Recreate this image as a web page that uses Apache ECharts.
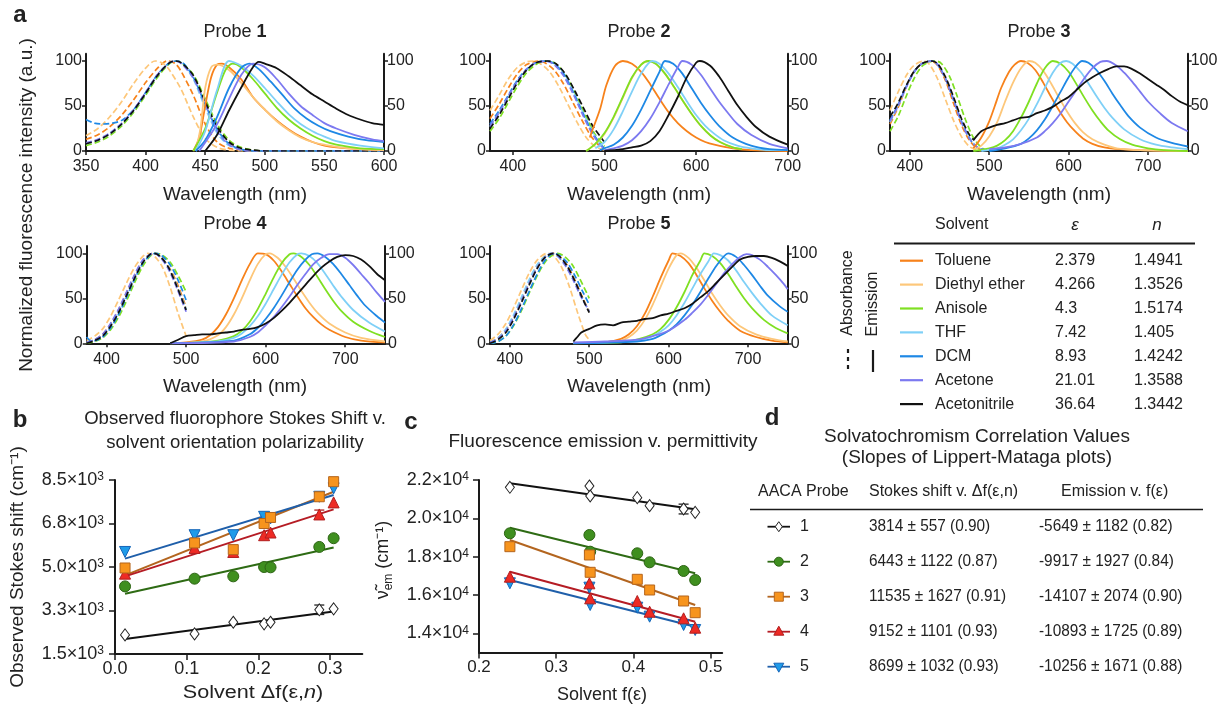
<!DOCTYPE html>
<html><head><meta charset="utf-8">
<script src="https://cdn.jsdelivr.net/npm/echarts@6/dist/echarts.min.js"></script>
<style>html,body{margin:0;padding:0;background:#fff}#c{width:1223px;height:706px}</style>
</head><body><div id="c"></div>
<script>
// ================= DATA =================
const solvents = ['Toluene','Diethyl ether','Anisole','THF','DCM','Acetone','Acetonitrile'];
const solventEps = ['2.379','4.266','4.3','7.42','8.93','21.01','36.64'];
const solventN = ['1.4941','1.3526','1.5174','1.405','1.4242','1.3588','1.3442'];
const probeLabels = ['1','2','3','4','5'];
const wlTicksProbe1 = [350,400,450,500,550,600];
const wlTicks = [400,500,600,700];
const intensityTicks = [0,50,100];

// Spectra: [wavelength nm, normalized intensity]; order: Toluene, Ether, Anisole, THF, DCM, Acetone, Acetonitrile
const probe1Abs = [
 [[350,13],[360,18],[370,27],[380,40],[390,57],[400,76],[410,92],[418,100],[425,97],[430,88],[440,62],[450,30],[460,10],[470,3],[480,1],[490,0],[600,0]],
 [[350,17],[360,25],[370,38],[380,55],[390,75],[400,92],[408,100],[415,97],[420,90],[430,68],[440,38],[450,14],[460,4],[470,1],[480,0],[600,0]],
 [[350,6],[360,10],[370,17],[380,28],[390,43],[400,62],[410,82],[420,97],[425,100],[430,98],[440,85],[450,58],[460,30],[470,12],[480,4],[490,1],[500,0],[600,0]],
 [[350,8],[360,12],[370,19],[380,30],[390,45],[400,64],[410,84],[420,98],[426,100],[432,96],[440,80],[450,48],[460,20],[470,6],[480,2],[490,0],[600,0]],
 [[350,35],[357,31],[365,30],[372,31],[380,34],[390,46],[400,65],[410,85],[420,98],[426,100],[432,97],[440,82],[450,52],[460,24],[470,8],[480,2],[490,0],[600,0]],
 [[350,9],[360,13],[370,20],[380,31],[390,46],[400,65],[410,85],[420,98],[425,100],[430,97],[440,81],[450,52],[460,22],[470,7],[480,1],[490,0],[600,0]],
 [[350,8],[360,12],[370,19],[380,30],[390,45],[400,64],[410,84],[420,98],[425,100],[430,98],[440,84],[450,55],[460,27],[470,10],[480,3],[490,1],[500,0],[600,0]]
];
const probe1Em = [
 [[440,0],[445,15],[450,50],[455,82],[460,96],[464,97],[470,93],[480,80],[490,60],[500,46],[510,34],[520,24],[530,16],[540,10],[550,6],[560,4],[580,2],[600,1]],
 [[442,0],[446,25],[450,70],[455,93],[460,96],[470,90],[480,76],[490,60],[500,46],[510,33],[520,23],[530,15],[540,10],[550,7],[570,3],[600,1]],
 [[440,0],[450,25],[460,65],[467,90],[473,97],[480,93],[490,80],[500,64],[510,48],[520,35],[530,25],[540,17],[550,11],[560,7],[580,3],[600,2]],
 [[442,0],[450,22],[460,68],[470,100],[480,95],[490,84],[500,70],[510,55],[520,41],[530,30],[540,22],[550,16],[560,11],[580,6],[600,3]],
 [[442,0],[450,12],[460,38],[470,70],[480,92],[487,97],[495,91],[505,77],[515,62],[525,47],[535,36],[545,28],[555,22],[570,16],[585,12],[600,10]],
 [[445,0],[460,30],[470,58],[480,84],[490,97],[500,93],[510,80],[520,64],[530,50],[540,40],[550,31],[560,25],[575,18],[590,13],[600,11]],
 [[450,0],[460,18],[470,45],[480,70],[490,93],[495,99],[500,97],[510,92],[520,83],[530,73],[540,63],[550,55],[560,47],[570,40],[580,35],[590,31],[600,29]]
];
const probe2Abs = [
 [[375,36],[385,52],[395,70],[405,86],[415,96],[428,100],[435,98],[445,90],[455,75],[465,55],[475,35],[485,17],[495,5],[500,2]],
 [[375,45],[385,62],[395,80],[405,93],[415,99],[422,100],[430,97],[440,88],[450,72],[460,52],[470,32],[480,15],[490,5],[500,1]],
 [[375,22],[385,36],[395,54],[405,72],[415,87],[425,96],[435,100],[440,100],[450,94],[460,80],[470,60],[480,38],[490,18],[500,5]],
 [[375,27],[385,42],[395,60],[405,77],[415,90],[425,98],[437,100],[445,97],[455,87],[465,68],[475,46],[485,25],[495,8],[500,3]],
 [[375,30],[385,45],[395,62],[405,79],[415,91],[425,98],[437,100],[445,97],[455,86],[465,67],[475,45],[485,24],[495,8],[500,3]],
 [[375,28],[385,43],[395,61],[405,78],[415,91],[425,98],[436,100],[445,96],[455,84],[465,65],[475,43],[485,22],[495,7],[500,2]],
 [[375,25],[385,40],[395,58],[405,76],[415,90],[425,98],[438,100],[447,97],[457,86],[467,68],[477,48],[487,28],[497,14],[500,10]]
];
const probe2Em = [
 [[484,15],[486,21],[495,46],[502,73],[511,94],[520,100],[530,97],[540,88],[550,74],[560,58],[570,43],[580,31],[590,22],[600,15],[610,10],[620,7],[640,3],[660,1],[700,0]],
 [[480,0],[490,8],[500,19],[510,37],[520,59],[530,81],[540,96],[548,100],[556,97],[566,86],[576,71],[586,55],[596,40],[606,27],[616,17],[626,10],[640,4],[650,2]],
 [[480,0],[490,8],[500,20],[510,38],[520,60],[530,82],[540,96],[548,100],[556,97],[566,86],[576,71],[586,55],[596,40],[606,27],[616,17],[626,10],[640,4],[650,2]],
 [[490,3],[500,10],[510,24],[520,44],[530,66],[540,86],[552,100],[560,97],[570,86],[580,71],[590,55],[600,40],[610,28],[620,19],[630,12],[645,6],[660,3],[680,1],[700,1]],
 [[495,1],[500,3],[510,7],[520,15],[530,28],[540,46],[550,67],[560,88],[566,100],[575,97],[585,86],[595,70],[605,54],[615,40],[625,28],[640,15],[660,6],[680,2],[700,1]],
 [[500,1],[510,3],[520,6],[530,12],[540,22],[550,36],[560,54],[570,74],[580,93],[585,100],[595,96],[605,85],[615,70],[625,55],[635,42],[645,30],[660,18],[680,8],[700,3]],
 [[500,0],[510,1],[520,2],[530,4],[540,6],[550,11],[560,22],[570,40],[580,60],[590,82],[600,98],[604,100],[615,95],[625,83],[635,67],[645,51],[655,38],[665,27],[680,16],[700,7]]
];
const probe3Abs = [
 [[375,30],[385,48],[395,70],[405,88],[415,97],[427,100],[435,95],[445,78],[455,53],[465,29],[475,12],[485,3],[495,1]],
 [[375,45],[385,65],[395,83],[405,95],[418,100],[425,96],[435,80],[445,57],[455,34],[465,16],[475,5],[485,1],[490,0]],
 [[375,22],[385,38],[395,60],[405,80],[415,94],[425,99],[433,100],[440,97],[450,83],[460,60],[470,35],[480,15],[490,4],[497,1]],
 [[375,32],[385,50],[395,70],[405,87],[415,97],[428,100],[435,96],[445,81],[455,58],[465,33],[475,15],[485,4],[495,1]],
 [[375,34],[385,51],[395,71],[405,88],[415,97],[428,100],[435,96],[445,80],[455,57],[465,33],[475,14],[485,4],[495,1]],
 [[375,33],[385,50],[395,70],[405,87],[415,97],[428,100],[435,96],[445,80],[455,57],[465,32],[475,14],[485,4],[495,1]],
 [[375,38],[385,53],[395,72],[405,88],[415,97],[428,100],[435,97],[445,82],[455,60],[465,36],[475,18],[481,12]]
];
const probe3Em = [
 [[480,3],[490,15],[500,33],[507,50],[515,70],[525,88],[532,96],[540,100],[548,98],[558,90],[568,76],[578,60],[588,45],[598,32],[608,22],[618,14],[630,8],[645,4],[665,2],[690,1],[750,0]],
 [[480,1],[490,6],[500,16],[510,32],[520,55],[530,76],[540,92],[550,100],[558,98],[568,89],[578,75],[588,59],[598,44],[608,31],[618,21],[630,13],[645,7],[660,3],[690,1],[750,0]],
 [[480,0],[500,3],[510,6],[520,12],[530,22],[540,37],[550,55],[560,75],[570,92],[580,100],[590,97],[600,88],[610,74],[620,59],[630,45],[640,33],[650,23],[665,13],[680,7],[700,3],[720,1],[750,0]],
 [[490,0],[510,3],[520,7],[530,13],[540,23],[550,36],[560,52],[570,70],[580,87],[590,98],[597,100],[605,97],[615,88],[625,75],[635,61],[645,48],[655,37],[670,24],[690,13],[710,7],[730,4],[750,2]],
 [[500,0],[520,3],[540,8],[550,14],[560,23],[570,35],[580,50],[590,66],[600,82],[610,95],[617,100],[625,98],[635,90],[645,78],[655,64],[665,51],[675,39],[690,26],[710,15],[730,9],[750,5]],
 [[500,2],[520,4],[540,8],[560,15],[570,22],[580,31],[590,42],[600,55],[610,68],[620,81],[630,92],[640,99],[648,100],[660,95],[670,87],[680,77],[690,66],[700,55],[715,42],[730,31],[750,22]],
 [[480,12],[490,22],[500,26],[510,29],[520,31],[530,34],[540,37],[550,38],[560,42],[570,45],[580,49],[590,55],[600,60],[610,68],[620,76],[630,82],[640,87],[650,91],[660,94],[670,94],[680,91],[690,86],[700,80],[710,74],[720,68],[730,61],[740,55],[750,51]]
];
const probe4Abs = [
 [[375,1],[385,4],[395,10],[405,21],[415,37],[425,56],[435,75],[445,91],[455,99],[460,100],[468,96],[478,85],[488,68],[500,40]],
 [[375,3],[385,8],[395,16],[405,30],[415,48],[425,67],[435,84],[445,96],[452,100],[460,97],[470,85],[480,62],[490,33],[500,8]],
 [[375,0],[385,2],[395,6],[405,15],[415,29],[425,47],[435,67],[445,85],[455,97],[462,100],[470,98],[480,90],[490,75],[500,57]],
 [[375,1],[385,4],[395,9],[405,20],[415,35],[425,54],[435,73],[445,90],[455,99],[460,100],[468,96],[478,84],[488,65],[500,38]],
 [[375,7],[380,3],[385,3],[395,7],[405,17],[415,32],[425,51],[435,71],[445,88],[455,98],[462,100],[470,97],[480,87],[490,70],[500,48]],
 [[375,1],[385,4],[395,10],[405,22],[415,38],[425,57],[435,76],[445,92],[455,99],[460,100],[468,95],[478,82],[488,62],[500,35]],
 [[375,0],[385,3],[395,8],[405,19],[415,34],[425,53],[435,72],[445,89],[455,99],[460,100],[468,96],[478,84],[488,64],[500,37]]
];
const probe4Em = [
 [[480,0],[500,1],[520,4],[530,9],[540,18],[550,32],[560,50],[570,70],[580,88],[590,100],[600,99],[610,92],[620,80],[630,66],[640,52],[650,39],[660,29],[670,21],[680,15],[700,7],[720,3],[750,1]],
 [[480,0],[520,2],[540,9],[550,18],[560,32],[570,50],[580,70],[590,88],[600,99],[605,100],[615,95],[625,85],[635,72],[645,58],[655,45],[665,34],[680,22],[700,12],[720,6],[750,2]],
 [[480,0],[520,1],[540,3],[560,8],[570,14],[580,24],[590,38],[600,55],[610,73],[620,89],[630,99],[635,100],[645,96],[655,87],[665,74],[675,60],[685,47],[695,36],[710,24],[730,14],[750,7]],
 [[480,0],[540,2],[560,6],[570,11],[580,19],[590,30],[600,44],[610,60],[620,76],[630,90],[640,99],[645,100],[655,97],[665,89],[675,77],[685,64],[695,52],[710,37],[730,23],[750,13]],
 [[480,0],[560,3],[580,10],[590,17],[600,27],[610,39],[620,53],[630,68],[640,82],[650,93],[658,99],[665,100],[675,96],[685,88],[695,77],[705,65],[715,53],[725,42],[740,30],[750,23]],
 [[480,0],[560,2],[580,7],[590,12],[600,20],[610,29],[620,40],[630,52],[640,65],[650,77],[660,88],[670,95],[680,99],[690,99],[700,95],[710,87],[720,77],[730,67],[740,56],[750,46]],
 [[480,0],[490,4],[500,8],[510,9],[520,10],[530,10],[540,11],[550,12],[560,13],[570,15],[580,16],[590,18],[600,22],[610,28],[620,36],[630,45],[640,55],[650,65],[660,75],[670,84],[680,91],[690,96],[700,98],[710,97],[720,93],[730,86],[740,77],[750,70]]
];
const probe5Abs = [
 [[375,1],[385,6],[395,15],[405,30],[415,50],[425,70],[435,87],[445,97],[455,100],[462,97],[472,87],[482,70],[492,50],[500,35]],
 [[375,3],[385,10],[395,22],[405,40],[415,60],[425,79],[435,93],[447,100],[455,97],[465,85],[475,63],[485,35],[495,10],[500,4]],
 [[375,0],[385,2],[395,8],[405,20],[415,37],[425,57],[435,76],[445,91],[455,99],[460,100],[468,97],[478,88],[488,72],[500,50]],
 [[375,1],[385,6],[395,16],[405,32],[415,52],[425,72],[435,88],[445,97],[452,100],[460,97],[470,87],[480,71],[490,52],[500,35]],
 [[375,0],[385,2],[395,8],[405,21],[415,39],[425,59],[435,78],[445,93],[455,100],[462,98],[472,90],[482,75],[492,57],[500,43]],
 [[375,1],[385,5],[395,14],[405,29],[415,48],[425,68],[435,85],[445,96],[453,100],[460,97],[470,86],[480,70],[490,51],[500,36]],
 [[375,0],[385,4],[395,12],[405,27],[415,46],[425,66],[435,84],[445,96],[455,100],[462,97],[472,86],[482,69],[492,49],[500,34]]
];
const probe5Em = [
 [[480,0],[520,1],[540,5],[550,10],[560,19],[570,33],[580,52],[590,73],[600,92],[605,100],[615,97],[625,89],[635,76],[645,61],[655,47],[665,35],[675,25],[690,14],[710,7],[730,3],[750,1]],
 [[480,0],[520,1],[540,3],[550,7],[560,14],[570,26],[580,43],[590,63],[600,83],[610,98],[615,100],[625,95],[635,84],[645,70],[655,55],[665,42],[675,31],[690,19],[710,10],[730,5],[750,2]],
 [[480,0],[540,1],[560,4],[580,10],[590,16],[600,26],[610,40],[620,57],[630,76],[640,92],[645,100],[655,97],[665,89],[675,77],[685,63],[695,50],[705,39],[720,26],[735,17],[750,11]],
 [[480,0],[560,3],[580,8],[590,13],[600,20],[610,31],[620,45],[630,61],[640,77],[650,91],[657,100],[665,98],[675,92],[685,81],[695,68],[705,56],[715,45],[730,31],[750,20]],
 [[480,0],[560,2],[580,5],[590,9],[600,14],[610,21],[620,31],[630,43],[640,57],[650,72],[660,86],[670,97],[675,100],[685,96],[695,87],[705,76],[715,64],[725,53],[740,41],[750,35]],
 [[480,1],[520,2],[560,4],[580,8],[600,14],[620,26],[630,34],[640,43],[650,54],[660,66],[670,78],[680,88],[690,96],[698,99],[705,98],[715,93],[725,85],[735,76],[745,66],[750,60]],
 [[480,2],[485,7],[490,12],[500,16],[510,20],[520,21],[530,20],[540,23],[550,24],[560,25],[570,27],[580,28],[590,31],[600,33],[610,36],[620,39],[630,44],[640,51],[650,58],[660,67],[670,76],[680,85],[690,93],[700,96],[710,97],[720,97],[730,95],[740,91],[750,86]]
];

// Panel b: Stokes shift (cm-1) vs solvent delta f(eps,n)
const bDeltaF = [0.014, 0.111, 0.165, 0.208, 0.217, 0.285, 0.305];
const bProbe1 = [2269, 2309, 2778, 2713, 2778, 3278, 3318];
const bProbe2 = [4220, 4530, 4624, 5000, 4987, 5807, 6158];
const bProbe3 = [4960, 5968, 5700, 6750, 6993, 7826, 8433];
const bProbe4 = [4732, 5767, 5605, 6279, 6387, 7114, 7599];
const bProbe5 = [5605, 6279, 6279, 7019, 6953, 7826, 8164];
const bFitX = [0.014, 0.305];
const bFits = [[2108, 3210], [3925, 5782], [4664, 8029], [4624, 7317], [5338, 7894]];
const bErrorBars = [[0.285, 3090, 3470, 0], [0.285, 6940, 7290, 3]];
const bYTicks = [1500, 3250, 5000, 6750, 8500];
const bXTicks = [0, 0.1, 0.2, 0.3];

// Panel c: emission wavenumber (cm-1) vs solvent f(eps)
const cFEps = [0.240, 0.343, 0.344, 0.405, 0.421, 0.465, 0.480];
const cProbe1 = [21619, 21687, 21165, 21078, 20660, 20487, 20313];
const cProbe2 = [19219, 19130, 18260, 18176, 17706, 17253, 16783];
const cProbe3 = [18521, 18087, 17184, 16819, 16261, 15687, 15077];
const cProbe4 = [16957, 16609, 15826, 15687, 15129, 14783, 14296];
const cProbe5 = [16609, 16383, 15479, 15338, 14869, 14435, 14174];
const cFitX = [0.24, 0.48];
const cFits = [[21826, 20470], [19512, 17133], [18870, 15479], [17217, 14609], [16783, 14348]];
const cErrorBars = [[0.465, 20230, 20740, 0]];
const cYTicks = [14000, 16000, 18000, 20000, 22000];
const cXTicks = [0.2, 0.3, 0.4, 0.5];

// Panel d table
const stokesSlopes = ['3814 ± 557 (0.90)', '6443 ± 1122 (0.87)', '11535 ± 1627 (0.91)', '9152 ± 1101 (0.93)', '8699 ± 1032 (0.93)'];
const emissionSlopes = ['-5649 ± 1182 (0.82)', '-9917 ± 1927 (0.84)', '-14107 ± 2074 (0.90)', '-10893 ± 1725 (0.89)', '-10256 ± 1671 (0.88)'];

// ================= STYLE / LAYOUT =================
const FONT = '"Liberation Sans", Arial, Helvetica, sans-serif';
const AX = '#1a1a1a';
const TXT = '#222';
const solventColors = ['#F7821B', '#FDC77A', '#7FE022', '#7FD0F7', '#1E88E5', '#7C79F0', '#111111'];
const probeFill = ['#ffffff', '#3f8f1f', '#F7941D', '#EE2A24', '#1E9BE9'];
const probeEdge = ['#222222', '#2d6414', '#b5651d', '#b01f1f', '#1565b8'];
const probeLine = ['#111111', '#2e6b14', '#b3651f', '#b51c24', '#1f5faa'];
const probeSymbol = ['diamond', 'circle', 'rect', 'triangle', 'triangle'];
const probeSymRot = [0, 0, 0, 0, 180];
const probeSymSize = [[9, 12], 11, 10, 11, 11];

const spectraAbs = [probe1Abs, probe2Abs, probe3Abs, probe4Abs, probe5Abs];
const spectraEm = [probe1Em, probe2Em, probe3Em, probe4Em, probe5Em];
const spectraRange = [[350, 600], [375, 700], [375, 750], [375, 750], [375, 750]];
const spectraXTicks = [wlTicksProbe1, wlTicks, wlTicks, wlTicks, wlTicks];
const specGrids = [
  {left: 86, top: 53.8, width: 298, height: 97.2},
  {left: 490, top: 53.8, width: 297.7, height: 97.2},
  {left: 890, top: 53.8, width: 297.7, height: 97.2},
  {left: 86.7, top: 246.1, width: 298.3, height: 97.2},
  {left: 490, top: 246.1, width: 297.7, height: 97.2}
];
const gridB = {left: 115, top: 480, width: 247.3, height: 174};
const gridC = {left: 479, top: 480, width: 243.2, height: 172.5};

function axisBase(fontSize, margin, ticks, tickLen, fmt) {
  return {
    axisLine: {show: true, onZero: false, lineStyle: {color: AX, width: 2}},
    axisTick: {show: true, inside: false, length: tickLen, customValues: ticks, lineStyle: {color: AX, width: 1.5}},
    axisLabel: {show: true, customValues: ticks, fontSize: fontSize, color: TXT, fontFamily: FONT, margin: margin, formatter: fmt},
    splitLine: {show: false}
  };
}

const grids = [], xAxes = [], yAxes = [], series = [];
for (let p = 0; p < 5; p++) {
  grids.push(Object.assign({containLabel: false}, specGrids[p]));
  xAxes.push(Object.assign({type: 'value', gridIndex: p, min: spectraRange[p][0], max: spectraRange[p][1]},
    axisBase(16, 8, spectraXTicks[p], 4, v => String(v))));
  yAxes.push(Object.assign({type: 'value', gridIndex: p, min: 0, max: 108, position: 'left'},
    axisBase(16, 4, intensityTicks, 4, v => String(v))));
  yAxes.push(Object.assign({type: 'value', gridIndex: p, min: 0, max: 108, position: 'right'},
    axisBase(16, 3, intensityTicks, 4, v => String(v))));
  for (let s = 0; s < 7; s++) {
    series.push({type: 'line', xAxisIndex: p, yAxisIndex: 2 * p, data: spectraAbs[p][s], symbol: 'none', smooth: 0.3,
      silent: true, z: 2, lineStyle: {color: solventColors[s], width: 1.7, type: [6, 3]}});
  }
  for (let s = 0; s < 7; s++) {
    series.push({type: 'line', xAxisIndex: p, yAxisIndex: 2 * p, data: spectraEm[p][s], symbol: 'none', smooth: 0.3,
      silent: true, z: 3, lineStyle: {color: solventColors[s], width: 1.8}});
  }
}
// Panel b grid (index 5)
grids.push(Object.assign({}, gridB));
xAxes.push(Object.assign({type: 'value', gridIndex: 5, min: 0, max: 0.345}, axisBase(18, 6, bXTicks, 6, v => v.toFixed(1))));
const sciRich = {m: {fontSize: 18, fontFamily: FONT, color: TXT}, s: {fontSize: 12, fontFamily: FONT, color: TXT, verticalAlign: 'top', padding: [0, 0, 6, 0]}};
const yb = Object.assign({type: 'value', gridIndex: 5, min: 1500, max: 8500, position: 'left'},
  axisBase(18, 11, bYTicks, 6, v => '{m|' + (v / 1000).toFixed(1) + '×10}{s|3}'));
yb.axisLabel.rich = sciRich;
yAxes.push(yb);
// Panel c grid (index 6)
grids.push(Object.assign({}, gridC));
xAxes.push(Object.assign({type: 'value', gridIndex: 6, min: 0.2, max: 0.515}, axisBase(17, 6, cXTicks, 6, v => v.toFixed(1))));
const yc = Object.assign({type: 'value', gridIndex: 6, min: 13000, max: 22000, position: 'left'},
  axisBase(18, 10, cYTicks, 6, v => '{m|' + (v / 10000).toFixed(1) + '×10}{s|4}'));
yc.axisLabel.rich = sciRich;
yAxes.push(yc);

const bVals = [bProbe1, bProbe2, bProbe3, bProbe4, bProbe5];
const cVals = [cProbe1, cProbe2, cProbe3, cProbe4, cProbe5];
const drawOrder = [0, 1, 4, 3, 2];
function addScatterPanel(gi, yi, xs, vals, fitX, fits, errs) {
  for (let p = 0; p < 5; p++) {
    series.push({type: 'line', xAxisIndex: gi, yAxisIndex: yi, data: fitX.map((x, i) => [x, fits[p][i]]), symbol: 'none',
      silent: true, z: 2, lineStyle: {color: probeLine[p], width: 2}});
  }
  series.push({type: 'custom', xAxisIndex: gi, yAxisIndex: yi, data: errs, z: 3, silent: true,
    renderItem: function (params, api) {
      const x = api.value(0), lo = api.value(1), hi = api.value(2), col = probeEdge[api.value(3)];
      const a = api.coord([x, lo]), b = api.coord([x, hi]);
      const w = 5;
      return {type: 'group', children: [
        {type: 'line', shape: {x1: a[0], y1: a[1], x2: b[0], y2: b[1]}, style: {stroke: col, lineWidth: 1.3}},
        {type: 'line', shape: {x1: a[0] - w, y1: a[1], x2: a[0] + w, y2: a[1]}, style: {stroke: col, lineWidth: 1.3}},
        {type: 'line', shape: {x1: b[0] - w, y1: b[1], x2: b[0] + w, y2: b[1]}, style: {stroke: col, lineWidth: 1.3}}
      ]};
    }});
  drawOrder.forEach((p, k) => {
    series.push({type: 'scatter', xAxisIndex: gi, yAxisIndex: yi, data: xs.map((x, i) => [x, vals[p][i]]),
      symbol: probeSymbol[p], symbolRotate: probeSymRot[p], symbolSize: probeSymSize[p], silent: true, z: 4 + k,
      itemStyle: {color: probeFill[p], borderColor: probeEdge[p], borderWidth: 1, opacity: 1}});
  });
}
addScatterPanel(5, 10, bDeltaF, bVals, bFitX, bFits, bErrorBars);
addScatterPanel(6, 11, cFEps, cVals, cFitX, cFits, cErrorBars);

// ================= GRAPHIC TEXT =================
const G = [];
function T(x, y, text, o) {
  o = o || {};
  const st = {text: text, x: 0, y: 0, fill: o.fill || TXT, fontSize: o.size || 16, fontFamily: FONT,
    fontWeight: o.weight || 'normal', fontStyle: o.style || 'normal', align: o.align || 'left', verticalAlign: o.va || 'middle'};
  if (o.rich) st.rich = o.rich;
  G.push({type: 'text', x: x, y: y, rotation: o.rot || 0, scaleX: o.sx || 1, z: 100, silent: true, style: st});
}
function L(x1, y1, x2, y2, col, w, dash) {
  G.push({type: 'line', z: 100, silent: true, shape: {x1: x1, y1: y1, x2: x2, y2: y2}, style: {stroke: col, lineWidth: w, lineDash: dash || null}});
}
function richStyles(size) {
  return {
    r: {fontSize: size, fontFamily: FONT, fill: TXT, color: TXT},
    b: {fontSize: size, fontFamily: FONT, fontWeight: 'bold', fill: TXT, color: TXT},
    i: {fontSize: size, fontFamily: FONT, fontStyle: 'italic', fill: TXT, color: TXT},
    sub: {fontSize: Math.round(size * 0.68), fontFamily: FONT, fill: TXT, color: TXT, verticalAlign: 'bottom', lineHeight: size + 6, padding: [8, 0, 0, 0]}
  };
}
// Panel letters
T(20, 15, 'a', {size: 24, weight: 'bold', align: 'center'});
T(20, 420, 'b', {size: 24, weight: 'bold', align: 'center'});
T(411, 422, 'c', {size: 24, weight: 'bold', align: 'center'});
T(772, 418, 'd', {size: 24, weight: 'bold', align: 'center'});
// Probe titles
const titlePos = [[235, 32], [639, 32], [1039, 32], [235, 224], [639, 224]];
titlePos.forEach((tp, p) => T(tp[0], tp[1], '{r|Probe }{b|' + probeLabels[p] + '}', {align: 'center', rich: richStyles(18)}));
// Wavelength labels
const wlPos = [[235, 195], [639, 195], [1039, 195], [235, 387], [639, 387]];
wlPos.forEach(wp => T(wp[0], wp[1], 'Wavelength (nm)', {size: 19, align: 'center'}));
T(27, 205, 'Normalized fluorescence intensity (a.u.)', {size: 19, align: 'center', rot: Math.PI / 2});

// Legend table
T(935, 225, 'Solvent', {size: 16});
T(1075, 225, 'ε', {size: 17, style: 'italic', align: 'center'});
T(1157, 225, 'n', {size: 17, style: 'italic', align: 'center'});
L(894, 243.5, 1195, 243.5, AX, 1.8);
solvents.forEach((name, s) => {
  const y = 260.7 + s * 23.9;
  L(900, y, 923, y, solventColors[s], 2.2);
  T(935, y, name, {size: 16});
  T(1055, y, solventEps[s], {size: 16});
  T(1134, y, solventN[s], {size: 16});
});
T(848, 293, 'Absorbance', {size: 16, align: 'center', rot: Math.PI / 2});
T(873, 304, 'Emission', {size: 16, align: 'center', rot: Math.PI / 2});
L(848, 349, 848, 373, AX, 2.2, [4, 4]);
L(873, 350, 873, 372, AX, 2.2);

// Panel b titles
T(235, 419, 'Observed fluorophore Stokes Shift v.', {size: 18, align: 'center', sx: 1.03});
T(235, 443, 'solvent orientation polarizability', {size: 18, align: 'center', sx: 1.03});
T(18, 567, '{r|Observed Stokes shift (cm⁻¹)}', {align: 'center', rot: Math.PI / 2, rich: richStyles(19)});
T(253, 693, '{r|Solvent Δf(ε,}{i|n}{r|)}', {align: 'center', rich: richStyles(18), sx: 1.2});
// Panel c titles
T(603, 442, 'Fluorescence emission v. permittivity', {size: 19, align: 'center'});
T(383, 560, '{r|ν̃}{sub|em}{r| (cm⁻¹)}', {align: 'center', rot: Math.PI / 2, rich: richStyles(18)});
T(602, 695, 'Solvent f(ε)', {size: 18, align: 'center'});

// Panel d
T(977, 437, 'Solvatochromism Correlation Values', {size: 19, align: 'center'});
T(977, 458, '(Slopes of Lippert-Mataga plots)', {size: 19, align: 'center'});
T(758, 492, 'AACA Probe', {size: 16});
T(869, 492, 'Stokes shift v. Δf(ε,n)', {size: 16});
T(1061, 492, 'Emission v. f(ε)', {size: 16});
L(750, 509.5, 1203, 509.5, AX, 1.6);
for (let p = 0; p < 5; p++) {
  const y = 526.7 + p * 35;
  L(767.5, y, 790, y, probeLine[p], 1.8);
  const cx = 778.8;
  if (p === 0) G.push({type: 'polygon', z: 101, shape: {points: [[cx, y - 5], [cx + 3.5, y], [cx, y + 5], [cx - 3.5, y]]}, style: {fill: '#fff', stroke: probeEdge[0], lineWidth: 1}});
  if (p === 1) G.push({type: 'circle', z: 101, shape: {cx: cx, cy: y, r: 4.5}, style: {fill: probeFill[1], stroke: probeEdge[1], lineWidth: 1}});
  if (p === 2) G.push({type: 'rect', z: 101, shape: {x: cx - 4.5, y: y - 4.5, width: 9, height: 9}, style: {fill: probeFill[2], stroke: probeEdge[2], lineWidth: 1}});
  if (p === 3) G.push({type: 'polygon', z: 101, shape: {points: [[cx, y - 5.5], [cx + 5, y + 3.5], [cx - 5, y + 3.5]]}, style: {fill: probeFill[3], stroke: probeEdge[3], lineWidth: 1}});
  if (p === 4) G.push({type: 'polygon', z: 101, shape: {points: [[cx, y + 5.5], [cx + 5, y - 3.5], [cx - 5, y - 3.5]]}, style: {fill: probeFill[4], stroke: probeEdge[4], lineWidth: 1}});
  T(800, y, probeLabels[p], {size: 16});
  T(869, y, stokesSlopes[p], {size: 16, sx: 0.96});
  T(1039, y, emissionSlopes[p], {size: 16, sx: 0.96});
}

const chart = echarts.init(document.getElementById('c'), null, {renderer: 'canvas'});
chart.setOption({
  animation: false,
  backgroundColor: '#ffffff',
  textStyle: {fontFamily: FONT},
  grid: grids, xAxis: xAxes, yAxis: yAxes, series: series, graphic: G
});
</script></body></html>
